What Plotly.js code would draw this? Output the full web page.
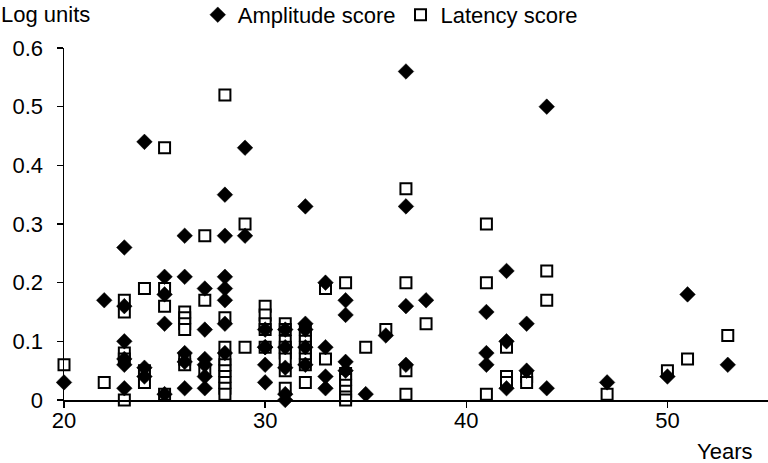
<!DOCTYPE html>
<html>
<head>
<meta charset="utf-8">
<script src="https://cdn.plot.ly/plotly-3.0.1.min.js"></script>
<style>
  html, body { margin: 0; padding: 0; background: white; }
  #graph { width: 768px; height: 463px; }
</style>
</head>
<body>
<div id="graph"></div>
<script>
// Amplitude score (diamonds)
var ampAge = [20, 22,
    23, 23, 23, 23, 23, 23,
    24, 24, 24,
    25, 25, 25, 25,
    26, 26, 26, 26, 26,
    27, 27, 27, 27, 27, 27,
    28, 28, 28, 28, 28, 28, 28,
    29, 29,
    30, 30, 30, 30, 30,
    31, 31, 31, 31, 31,
    32, 32, 32, 32, 32,
    33, 33, 33, 33,
    34, 34, 34, 34,
    35, 36,
    37, 37, 37, 37,
    38,
    41, 41, 41,
    42, 42, 42,
    43, 43,
    44, 44,
    47, 50, 51, 53];
var ampVal = [0.03, 0.17,
    0.26, 0.16, 0.10, 0.07, 0.06, 0.02,
    0.44, 0.055, 0.04,
    0.21, 0.18, 0.13, 0.01,
    0.28, 0.21, 0.08, 0.065, 0.02,
    0.19, 0.12, 0.07, 0.06, 0.04, 0.02,
    0.35, 0.28, 0.21, 0.19, 0.17, 0.13, 0.08,
    0.43, 0.28,
    0.12, 0.09, 0.09, 0.06, 0.03,
    0.12, 0.09, 0.055, 0.01, 0.0,
    0.33, 0.13, 0.12, 0.09, 0.06,
    0.20, 0.09, 0.04, 0.02,
    0.17, 0.145, 0.065, 0.05,
    0.01, 0.11,
    0.56, 0.33, 0.16, 0.06,
    0.17,
    0.15, 0.08, 0.06,
    0.22, 0.10, 0.02,
    0.13, 0.05,
    0.50, 0.02,
    0.03, 0.04, 0.18, 0.06];

// Latency score (squares)
var latAge = [20, 22,
    23, 23, 23, 23, 23,
    24, 24, 24,
    25, 25, 25, 25,
    26, 26, 26, 26, 26, 26,
    27, 27, 27,
    28, 28, 28, 28, 28, 28, 28, 28, 28, 28,
    29, 29,
    30, 30, 30, 30, 30,
    31, 31, 31, 31, 31, 31, 31, 31,
    32, 32, 32, 32, 32, 32, 32, 32,
    33, 33,
    34, 34, 34, 34, 34, 34, 34,
    35, 36,
    37, 37, 37, 37,
    38,
    41, 41, 41,
    42, 42, 42,
    43, 43,
    44, 44,
    47, 50, 51, 53];
var latVal = [0.06, 0.03,
    0.17, 0.15, 0.08, 0.07, 0.0,
    0.19, 0.05, 0.03,
    0.43, 0.19, 0.16, 0.01,
    0.15, 0.14, 0.13, 0.12, 0.06, 0.07,
    0.28, 0.17, 0.05,
    0.52, 0.14, 0.09, 0.07, 0.06, 0.05, 0.04, 0.03, 0.02, 0.01,
    0.30, 0.09,
    0.16, 0.145, 0.13, 0.12, 0.09,
    0.13, 0.12, 0.10, 0.09, 0.08, 0.07, 0.05, 0.02,
    0.12, 0.11, 0.10, 0.09, 0.08, 0.07, 0.06, 0.03,
    0.19, 0.07,
    0.20, 0.045, 0.035, 0.025, 0.015, 0.005, 0.0,
    0.09, 0.12,
    0.36, 0.20, 0.05, 0.01,
    0.13,
    0.30, 0.20, 0.01,
    0.09, 0.04, 0.03,
    0.04, 0.03,
    0.22, 0.17,
    0.01, 0.05, 0.07, 0.11];

var fontFam = '"Liberation Sans", Arial, sans-serif';

var latTrace = {
    x: latAge,
    y: latVal,
    mode: 'markers',
    type: 'scatter',
    name: 'Latency score',
    cliponaxis: false,
    marker: {
        symbol: 'square',
        size: 11,
        color: 'white',
        line: { color: 'black', width: 2 }
    }
};

var ampTrace = {
    x: ampAge,
    y: ampVal,
    mode: 'markers',
    type: 'scatter',
    name: 'Amplitude score',
    cliponaxis: false,
    marker: {
        symbol: 'diamond',
        size: 12,
        color: 'black',
        line: { color: 'black', width: 0.5 }
    }
};

var layout = {
    width: 768,
    height: 463,
    margin: { l: 64, r: 0, t: 48, b: 63, autoexpand: false },
    paper_bgcolor: 'white',
    plot_bgcolor: 'white',
    font: { family: fontFam, size: 22, color: 'black' },
    showlegend: true,
    legend: {
        orientation: 'h',
        traceorder: 'reversed',
        x: 0.19,
        xanchor: 'left',
        y: 1.094,
        yanchor: 'middle',
        font: { family: fontFam, size: 22, color: 'black' },
        bgcolor: 'rgba(0,0,0,0)'
    },
    xaxis: {
        range: [20, 55],
        tickvals: [20, 30, 40, 50],
        ticks: 'outside',
        ticklen: 6,
        tickwidth: 1.5,
        tickcolor: 'black',
        ticklabelstandoff: -6,
        showgrid: false,
        zeroline: false,
        showline: true,
        linecolor: 'black',
        linewidth: 1.5,
        tickfont: { family: fontFam, size: 22 }
    },
    yaxis: {
        range: [0, 0.6],
        tickvals: [0, 0.1, 0.2, 0.3, 0.4, 0.5, 0.6],
        ticktext: ['0', '0.1', '0.2', '0.3', '0.4', '0.5', '0.6'],
        ticks: 'outside',
        ticklen: 6,
        tickwidth: 1.5,
        tickcolor: 'black',
        ticklabelstandoff: 9,
        showgrid: false,
        zeroline: false,
        showline: true,
        linecolor: 'black',
        linewidth: 1.5,
        tickfont: { family: fontFam, size: 22 }
    },
    annotations: [
        {
            text: 'Log units',
            xref: 'paper', yref: 'paper',
            x: -0.092, y: 1.094,
            xanchor: 'left', yanchor: 'middle',
            showarrow: false,
            font: { family: fontFam, size: 22 }
        },
        {
            text: 'Years',
            xref: 'paper', yref: 'paper',
            x: 0.897, y: -0.145,
            xanchor: 'left', yanchor: 'middle',
            showarrow: false,
            font: { family: fontFam, size: 22 }
        }
    ]
};

var config = {
    staticPlot: true,
    responsive: false
};

Plotly.newPlot('graph', [latTrace, ampTrace], layout, config);
</script>
</body>
</html>
